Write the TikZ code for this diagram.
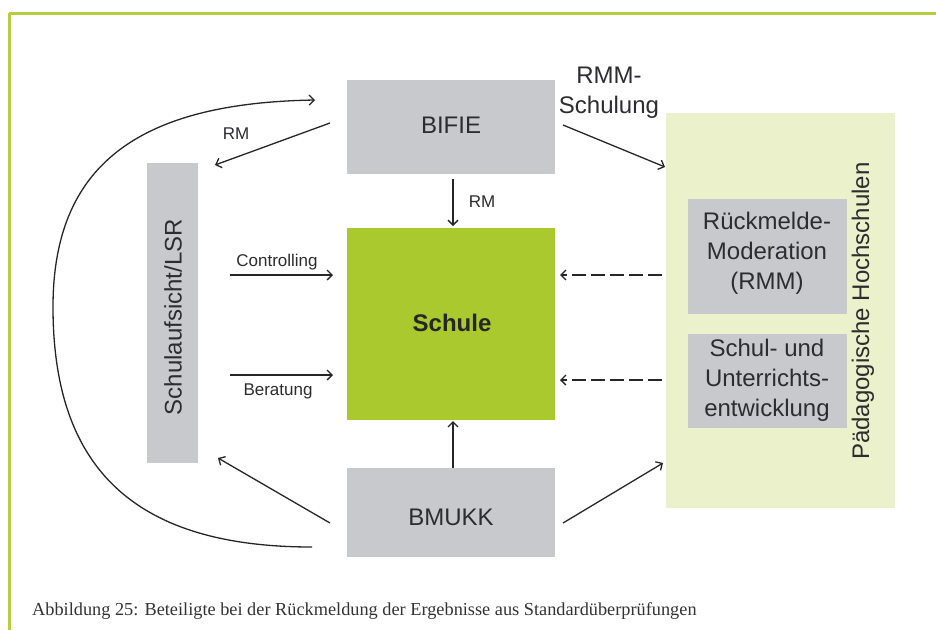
\documentclass[tikz,border=0pt]{standalone}
\usepackage{fontspec}
\setmainfont{Liberation Serif}
\setsansfont{Liberation Sans}
\usetikzlibrary{arrows.meta}

\definecolor{boxgray}{RGB}{200,201,204}
\definecolor{schulgreen}{RGB}{170,201,46}
\definecolor{phgreen}{RGB}{234,241,203}
\definecolor{framegreen}{RGB}{182,207,62}
\definecolor{txt}{RGB}{45,45,48}

\begin{document}
\begin{tikzpicture}[x=1pt,y=-1pt,
  big/.style={font=\sffamily\fontsize{24}{30}\selectfont, text=txt},
  small/.style={font=\sffamily\fontsize{17}{20}\selectfont, text=txt},
  graybox/.style={fill=boxgray, draw=none, inner sep=0pt},
  arr/.style={-{Straight Barb[length=5pt,width=10pt]}, line width=1.3pt, draw=black!85},
  dasharr/.style={arr, dash pattern=on 14pt off 5pt}]

\useasboundingbox (0,0) rectangle (936,630);
\fill[white] (0,0) rectangle (936,630);

% page frame
\draw[framegreen, line width=3pt] (9,13) -- (936,13);
\draw[framegreen, line width=3pt] (9,13) -- (9,630);

% boxes
\node[graybox, minimum width=208pt, minimum height=94pt] (bifie) at (451,127) {};
\node[big] at (451,125) {BIFIE};
\node[fill=schulgreen, inner sep=0pt, minimum width=208pt, minimum height=192pt] (schule) at (451,324) {};
\node[big, font=\sffamily\bfseries\fontsize{24}{30}\selectfont, text=black!85] at (452,323) {Schule};
\node[graybox, minimum width=208pt, minimum height=89pt] (bmukk) at (451,512.5) {};
\node[big] at (451,517) {BMUKK};
\node[graybox, minimum width=51pt, minimum height=300pt] (lsr) at (172.5,313) {};
\node[big, rotate=90] at (173,317) {Schulaufsicht/LSR};

\node[fill=phgreen, inner sep=0pt, minimum width=229pt, minimum height=395pt] (ph) at (780.5,310.5) {};
\node[big, rotate=90] at (863,311) {Pädagogische Hochschulen};
\node[graybox, minimum width=159pt, minimum height=115pt] (rmm) at (767.5,256.5) {};
\node[big, align=center] at (767,253) {Rückmelde-\\Moderation\\(RMM)};
\node[graybox, minimum width=159pt, minimum height=94pt] (sue) at (767.5,381) {};
\node[big, align=center] at (767,380) {Schul- und\\Unterrichts-\\entwicklung};

% connector end points
\coordinate (curveB) at (312,547);
\coordinate (curveL) at (53,307);
\coordinate (curveT) at (315,100);
\coordinate (rmS) at (330,123);
\coordinate (rmE) at (215,165);
\coordinate (bifieS) at (453,179);
\coordinate (schuleT) at (453,226);
\coordinate (bmukkT) at (453,468);
\coordinate (schuleB) at (453,421);
\coordinate (ctrlS) at (230,275);
\coordinate (ctrlE) at (333,275);
\coordinate (berS) at (230,375);
\coordinate (berE) at (333,375);
\coordinate (schS) at (563,125);
\coordinate (schE) at (665,167);
\coordinate (bmR) at (563,523);
\coordinate (phE) at (663,463);
\coordinate (bmL) at (330,523);
\coordinate (lsrE) at (218,458);
\coordinate (d1S) at (662,275);
\coordinate (d1E) at (560,275);
\coordinate (d2S) at (662,380);
\coordinate (d2E) at (560,380);

% connectors
\draw[arr] (curveB) .. controls (136,547) and (53,470) .. (curveL)
                    .. controls (53,166) and (137,103) .. (curveT);
\draw[arr] (rmS) -- (rmE);
\node[small] (rmlabel) at (236,134) {RM};
\draw[arr] (bifieS) -- (schuleT);
\node[small] (rmlabel2) at (482,202) {RM};
\draw[arr] (ctrlS) -- (ctrlE);
\node[small] (ctrl) at (277,262) {Controlling};
\draw[arr] (berS) -- (berE);
\node[small] (ber) at (278,391) {Beratung};
\draw[arr] (bmukkT) -- (schuleB);
\draw[arr] (schS) -- (schE);
\node[big, align=center] (rmmlabel) at (609,93) {RMM-\\Schulung};
\draw[arr] (bmR) -- (phE);
\draw[arr] (bmL) -- (lsrE);
\draw[dasharr] (d1S) -- (d1E);
\draw[dasharr] (d2S) -- (d2E);

% caption
\node[anchor=west, font=\rmfamily\fontsize{18.3}{22}\selectfont, text=black!80, inner sep=0pt] (caption) at (32,611)
  {Abbildung 25: Beteiligte bei der Rückmeldung der Ergebnisse aus Standardüberprüfungen};
\end{tikzpicture}
\end{document}
